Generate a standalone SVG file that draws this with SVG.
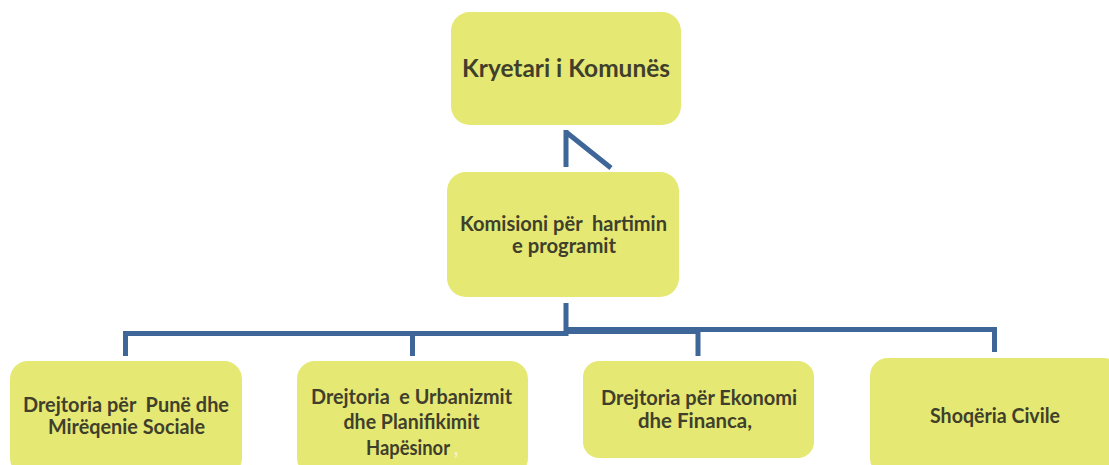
<svg xmlns="http://www.w3.org/2000/svg" width="1109" height="465" viewBox="0 0 1109 465">
<style>
.box{fill:#e5e873;}
.t{font-family:Lato,"Liberation Sans",sans-serif;font-weight:bold;fill:#3f3f2c;text-anchor:middle;}
.c{fill:none;stroke:#3e6699;stroke-width:5;stroke-linejoin:miter;stroke-linecap:butt;}
</style>
<rect width="1109" height="465" fill="#ffffff"/>
<g id="connectors">
<path class="c" d="M566,130 V167 M566,132 L611,168"/>
<path class="c" d="M566,303 V333.5 H125.5 V356 M412.5,333.5 V356"/>
<path class="c" d="M566,331.5 H698 V356"/>
<path class="c" d="M566,329.5 H994.5 V352"/>
</g>
<g id="kryetari">
<rect class="box" x="451" y="12" width="230" height="113" rx="19"/>
<text class="t" x="566" y="77" font-size="24" textLength="208" lengthAdjust="spacingAndGlyphs">Kryetari i Komunës</text>
</g>
<g id="komisioni">
<rect class="box" x="447" y="172" width="232" height="125" rx="19"/>
<text class="t" x="563.5" y="230.5" font-size="20" textLength="207" lengthAdjust="spacingAndGlyphs" xml:space="preserve">Komisioni për  hartimin</text>
<text class="t" x="564" y="253" font-size="20" textLength="104" lengthAdjust="spacingAndGlyphs">e programit</text>
</g>
<g id="drejtoria-pune">
<rect class="box" x="10" y="361" width="232" height="115" rx="18"/>
<text class="t" x="126" y="411.5" font-size="20" textLength="206" lengthAdjust="spacingAndGlyphs" xml:space="preserve">Drejtoria për  Punë dhe</text>
<text class="t" x="126.5" y="434" font-size="20" textLength="157" lengthAdjust="spacingAndGlyphs">Mirëqenie Sociale</text>
</g>
<g id="drejtoria-urbanizmit">
<rect class="box" x="297" y="361" width="231" height="115" rx="18"/>
<text class="t" x="411.5" y="404" font-size="20" textLength="201" lengthAdjust="spacingAndGlyphs" xml:space="preserve">Drejtoria  e Urbanizmit</text>
<text class="t" x="411.5" y="429" font-size="20" textLength="136" lengthAdjust="spacingAndGlyphs">dhe Planifikimit</text>
<text class="t" x="408" y="455" font-size="20" textLength="84" lengthAdjust="spacingAndGlyphs">Hapësinor</text>
<text class="t" x="456" y="455" font-size="20" fill="#f6f2c8" style="fill:#f6f2c8">,</text>
</g>
<g id="drejtoria-ekonomi">
<rect class="box" x="583" y="361" width="231" height="97" rx="16"/>
<text class="t" x="699" y="405" font-size="20" textLength="196" lengthAdjust="spacingAndGlyphs">Drejtoria për Ekonomi</text>
<text class="t" x="695" y="428" font-size="20" textLength="114" lengthAdjust="spacingAndGlyphs">dhe Financa,</text>
</g>
<g id="shoqeria">
<rect class="box" x="870" y="358" width="252" height="118" rx="18"/>
<text class="t" x="995" y="423" font-size="20" textLength="130" lengthAdjust="spacingAndGlyphs">Shoqëria Civile</text>
</g>
</svg>
